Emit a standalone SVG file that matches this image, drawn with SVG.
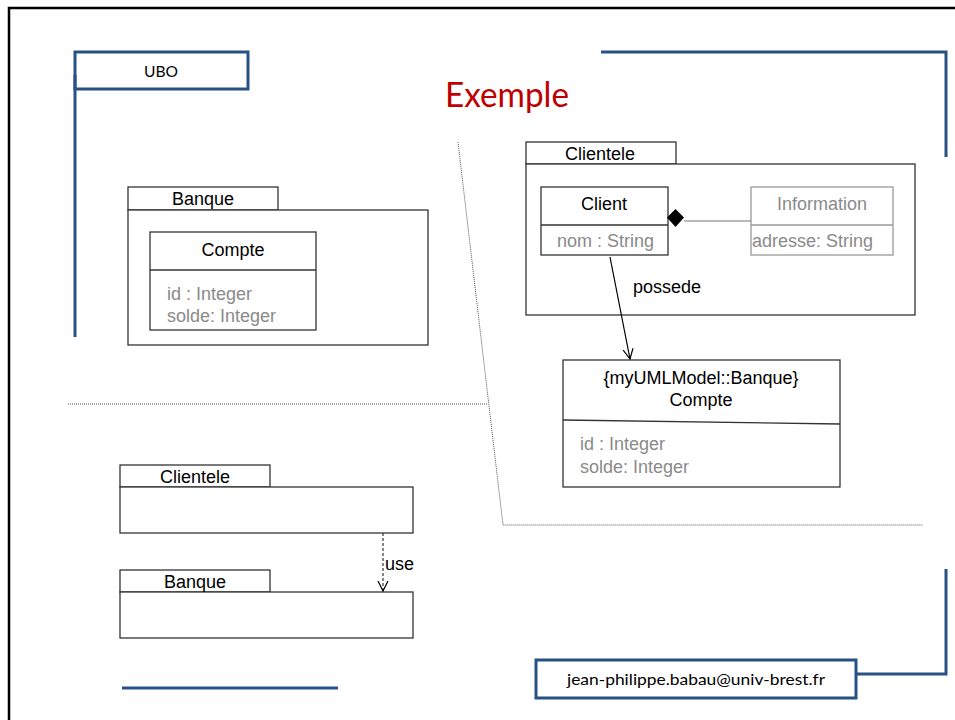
<svg xmlns="http://www.w3.org/2000/svg" width="955" height="720" viewBox="0 0 955 720">
<defs>
<style>
.blue{fill:none;stroke:#2A5185;stroke-width:3}
.box{fill:#fff;stroke:#333;stroke-width:1.3}
.gbox{fill:#fff;stroke:#999;stroke-width:1.3}
.uml{font-family:"Liberation Sans",Arial,sans-serif;font-size:18px;fill:#000}
.attr{font-family:"Liberation Sans",Arial,sans-serif;font-size:18px;fill:#8a8a8a}
.cal{font-family:Lato,"Open Sans",sans-serif;fill:#000}
.dot{fill:none;stroke:#555;stroke-width:1;stroke-dasharray:1 1}
.line{fill:none;stroke:#000;stroke-width:1.2}
</style>
<marker id="open" viewBox="0 0 12 12" refX="11" refY="6" markerWidth="12" markerHeight="12" markerUnits="userSpaceOnUse" orient="auto">
<path d="M1,1 L11,6 L1,11" fill="none" stroke="#000" stroke-width="1.2"/>
</marker>
</defs>
<rect width="955" height="720" fill="#fff"/>
<!-- slide frame -->
<path d="M9,720 L9,8 L955,8" fill="none" stroke="#000" stroke-width="2.5"/>
<g id="ubo">
<path class="blue" d="M75,337 L75,75"/>
<rect class="blue" x="75" y="52" width="173" height="37"/>
<text class="cal" x="161" y="77" font-size="15" text-anchor="middle" textLength="34" lengthAdjust="spacingAndGlyphs">UBO</text>
</g>
<path class="blue" d="M601,52 L946,52 L946,157"/>
<g id="email">
<path class="blue" d="M946,569 L946,674 L857,674"/>
<rect class="blue" x="536" y="660" width="320" height="38"/>
<text class="cal" x="696" y="685" font-size="15" text-anchor="middle" textLength="258" lengthAdjust="spacingAndGlyphs">jean-philippe.babau@univ-brest.fr</text>
</g>
<path class="blue" d="M122,688 L338,688"/>
<text id="title" class="cal" x="445" y="107" font-size="34" style="fill:#C00000" textLength="124" lengthAdjust="spacingAndGlyphs">Exemple</text>
<!-- separators -->
<path class="dot" d="M458,142 L503,525 L923,525"/>
<path class="dot" d="M68,404 L488,404"/>
<!-- top-left Banque package -->
<g id="pkg-banque-top">
<rect class="box" x="128" y="187" width="150" height="23"/>
<rect class="box" x="128" y="210" width="300" height="135"/>
<text class="uml" x="203" y="205" text-anchor="middle">Banque</text>
</g>
<g id="class-compte-top">
<rect class="box" x="150" y="232" width="166" height="98"/>
<path class="box" d="M150,270 L316,270"/>
<text class="uml" x="233" y="256" text-anchor="middle">Compte</text>
<text class="attr" x="167" y="300">id : Integer</text>
<text class="attr" x="167" y="322">solde: Integer</text>
</g>
<!-- Clientele package top-right -->
<g id="pkg-clientele-top">
<rect class="box" x="526" y="142" width="150" height="22"/>
<rect class="box" x="526" y="164" width="389" height="151"/>
<text class="uml" x="600" y="160" text-anchor="middle">Clientele</text>
</g>
<g id="class-client">
<rect class="box" x="541" y="187" width="127" height="68"/>
<path class="box" d="M541,225 L668,225"/>
<text class="uml" x="604" y="210" text-anchor="middle">Client</text>
<text class="attr" x="557" y="247">nom : String</text>
</g>
<g id="class-information">
<rect class="gbox" x="751" y="187" width="142" height="68"/>
<path class="gbox" d="M751,225 L893,225"/>
<text class="attr" x="822" y="210" text-anchor="middle">Information</text>
<text class="attr" x="752" y="247">adresse: String</text>
</g>
<g id="class-compte-right">
<rect class="box" x="563" y="360" width="277" height="127"/>
<path class="box" d="M563,420 L840,424"/>
<text class="uml" x="701" y="384" text-anchor="middle">{myUMLModel::Banque}</text>
<text class="uml" x="701" y="406" text-anchor="middle">Compte</text>
<text class="attr" x="580" y="450">id : Integer</text>
<text class="attr" x="580" y="473">solde: Integer</text>
</g>
<!-- bottom-left packages -->
<g id="pkg-clientele-bottom">
<rect class="box" x="120" y="465" width="150" height="22"/>
<rect class="box" x="120" y="487" width="293" height="46"/>
<text class="uml" x="195" y="483" text-anchor="middle">Clientele</text>
</g>
<g id="pkg-banque-bottom">
<rect class="box" x="120" y="570" width="150" height="22"/>
<rect class="box" x="120" y="592" width="293" height="46"/>
<text class="uml" x="195" y="588" text-anchor="middle">Banque</text>
</g>
<!-- connectors -->
<g id="connectors">
<path d="M684,221 L751,221" fill="none" stroke="#777" stroke-width="1.2"/>
<path d="M667,217.5 L675.5,209 L684,217.5 L675.5,227 Z" fill="#000"/>
<path class="line" d="M610,257 L630,359" marker-end="url(#open)"/>
<text class="uml" x="633" y="293">possede</text>
<path d="M383,533 L383,591" fill="none" stroke="#333" stroke-width="1.2" stroke-dasharray="3 2" marker-end="url(#open)"/>
<text class="uml" x="385" y="570">use</text>
</g>
</svg>
